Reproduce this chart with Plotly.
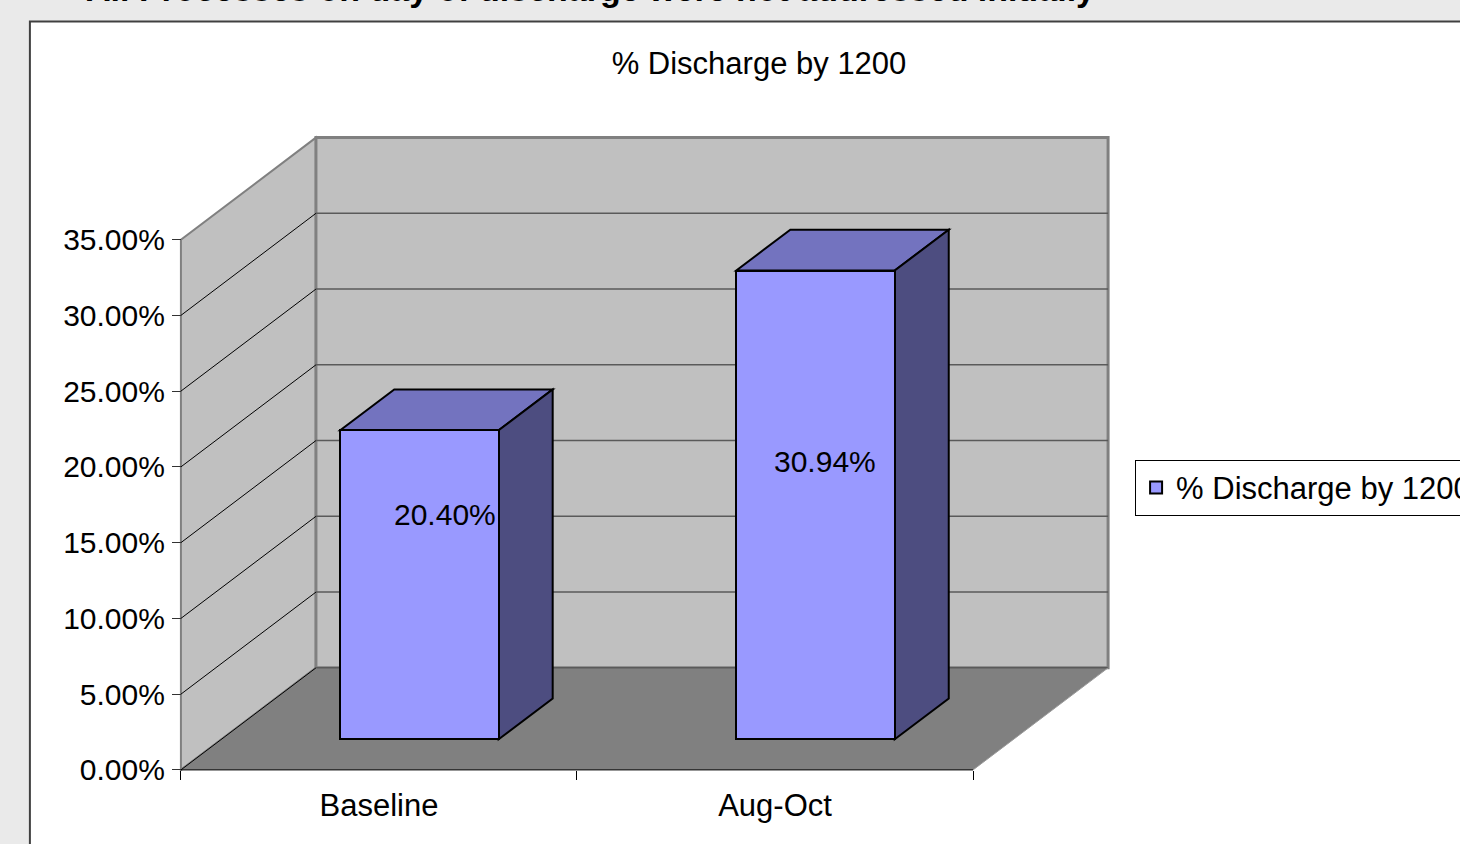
import plotly.graph_objects as go

# ---- data ----
categories = ["Baseline", "Aug-Oct"]
discharge_pct = [20.40, 30.94]
y_ticks = [0, 5, 10, 15, 20, 25, 30, 35]
y_tick_labels = ["0.00%", "5.00%", "10.00%", "15.00%", "20.00%", "25.00%", "30.00%", "35.00%"]
series_name = "% Discharge by 1200"
chart_title = "% Discharge by 1200"
slide_heading = "All Processes on day of discharge were not addressed initially"

# ---- page / projection settings ----
W, H = 1460, 844
FONT = "Liberation Sans, Arial, sans-serif"
PX_X, PX_Y = 396.0, 15.143          # pixels per category, pixels per percent
ORIGIN = (181.0, 770.0)             # pixel of (0, 0) on the front plane
DX, DY = 135 / PX_X, 102 / PX_Y     # depth of the 3-D box in data units
Y_MAX = 35.0
N = len(categories)
BAR_W = 0.40                        # bar width as a share of a category
T0, T1 = 0.30, 0.70                 # bar front / back depth fractions
LABEL_DX = [0.065, 0.025]           # data-label offsets from the bar face centre
LABEL_FRAC = [0.726, 0.593]         # data-label height as a share of the bar

X_RANGE = [-0.02, N + DX + 0.02]
Y_RANGE = [-0.6, Y_MAX + DY + 0.5]

ml = ORIGIN[0] + X_RANGE[0] * PX_X
mr = W - (ORIGIN[0] + X_RANGE[1] * PX_X)
mb = H - (ORIGIN[1] + (-Y_RANGE[0]) * PX_Y)
mt = ORIGIN[1] - Y_RANGE[1] * PX_Y
pw, ph = W - ml - mr, H - mt - mb


def paper_x(px):
    return (px - ml) / pw


def paper_y(py):
    return (H - mb - py) / ph


def poly(pts, fill, line_color="rgba(0,0,0,0)", lw=0):
    path = "M " + " L ".join(f"{x:.5f},{y:.5f}" for x, y in pts) + " Z"
    return dict(type="path", path=path, xref="x", yref="y", layer="below",
                fillcolor=fill, line=dict(color=line_color, width=lw))


def seg(p, q, color, lw):
    return dict(type="line", x0=p[0], y0=p[1], x1=q[0], y1=q[1], xref="x", yref="y",
                layer="below", line=dict(color=color, width=lw))


WALL, FLOOR, EDGE = "#C0C0C0", "#808080", "#808080"
FRONT, TOP, SIDE = "#9999FF", "#7373BF", "#4D4D80"

shapes = []
# slide background card holding the chart
shapes.append(dict(type="rect", xref="paper", yref="paper", layer="below",
                   x0=paper_x(30), x1=paper_x(1600), y0=paper_y(900), y1=paper_y(22),
                   fillcolor="white", line=dict(color="#404040", width=2)))

# walls and floor
shapes.append(poly([(0, 0), (0, Y_MAX), (DX, Y_MAX + DY), (DX, DY)], WALL, EDGE, 2))
shapes.append(poly([(DX, DY), (DX, Y_MAX + DY), (N + DX, Y_MAX + DY), (N + DX, DY)], WALL, EDGE, 3))
shapes.append(poly([(0, 0), (N, 0), (N + DX, DY), (DX, DY)], FLOOR))

# gridlines on the back wall and the matching diagonals on the side wall
for v in y_ticks[1:-1]:
    shapes.append(seg((DX, v + DY), (N + DX, v + DY), "#5A5A5A", 1.5))
    shapes.append(seg((0, v), (DX, v + DY), "#000000", 1))

# floor edges
shapes.append(seg((DX, DY), (N + DX, DY), "#5A5A5A", 1.5))
shapes.append(seg((0, 0), (DX, DY), EDGE, 2))
shapes.append(seg((0, 0), (DX, DY), "#000000", 1))
shapes.append(seg((N, 0), (N + DX, DY), "#9A9A9A", 1))
shapes.append(seg((0, 0), (N, 0), "#000000", 1))

# top and side faces of each bar
bar_x = []
annotations = []
for i, v in enumerate(discharge_pct):
    xc = i + 0.5
    xl, xr = xc - BAR_W / 2, xc + BAR_W / 2
    bar_x.append(xc + T0 * DX)
    top = [(xl + T0 * DX, v + T0 * DY), (xr + T0 * DX, v + T0 * DY),
           (xr + T1 * DX, v + T1 * DY), (xl + T1 * DX, v + T1 * DY)]
    side = [(xr + T0 * DX, T0 * DY), (xr + T1 * DX, T1 * DY),
            (xr + T1 * DX, v + T1 * DY), (xr + T0 * DX, v + T0 * DY)]
    shapes.append(poly(top, TOP, "#000000", 2))
    shapes.append(poly(side, SIDE, "#000000", 2))
    annotations.append(dict(x=xc + T0 * DX + LABEL_DX[i], y=T0 * DY + LABEL_FRAC[i] * v,
                            xref="x", yref="y", text=f"{v:.2f}%", showarrow=False,
                            font=dict(family=FONT, size=30, color="black")))

# heading of the slide, running off the top of the page
annotations.append(dict(x=paper_x(84), y=paper_y(-11), xref="paper", yref="paper",
                        xanchor="left", yanchor="middle", text=f"<b>{slide_heading}</b>",
                        showarrow=False, font=dict(family=FONT, size=34, color="black")))

fig = go.Figure()
fig.add_trace(go.Bar(
    x=bar_x, y=discharge_pct, base=T0 * DY, width=BAR_W, name=series_name,
    marker=dict(color=FRONT, line=dict(color="black", width=2)),
    hoverinfo="skip", showlegend=True,
))

fig.update_layout(
    width=W, height=H,
    margin=dict(l=ml, r=mr, t=mt, b=mb, pad=0, autoexpand=False),
    paper_bgcolor="#EAEAEA", plot_bgcolor="white",
    font=dict(family=FONT, size=30, color="black"),
    title=dict(text=chart_title, x=paper_x(759), xref="paper", xanchor="center",
               y=1 - 63 / H, yref="container", yanchor="middle",
               font=dict(family=FONT, size=31, color="black")),
    xaxis=dict(range=X_RANGE, tickmode="array", tickvals=[i + 0.5 for i in range(N)],
               ticktext=categories, ticks="", showgrid=False, zeroline=False,
               showline=False, anchor="free", position=paper_y(ORIGIN[1]),
               ticklabelstandoff=14, tickfont=dict(size=31),
               minor=dict(tickmode="array", tickvals=list(range(N + 1)), ticks="outside",
                          ticklen=9, tickcolor="#000000", tickwidth=1, showgrid=False)),
    yaxis=dict(range=Y_RANGE, tickmode="array", tickvals=y_ticks, ticktext=y_tick_labels,
               ticks="outside", ticklen=9, tickcolor="#333333", tickwidth=1,
               showgrid=False, zeroline=False, showline=False, anchor="free",
               position=paper_x(ORIGIN[0]), ticklabelstandoff=1, tickfont=dict(size=30)),
    legend=dict(x=paper_x(1135), y=paper_y(460), xanchor="left", yanchor="top",
                bgcolor="white", bordercolor="black", borderwidth=1,
                font=dict(family=FONT, size=31, color="black")),
    shapes=shapes, annotations=annotations, bargap=0,
)

fig.write_html("out.html")
